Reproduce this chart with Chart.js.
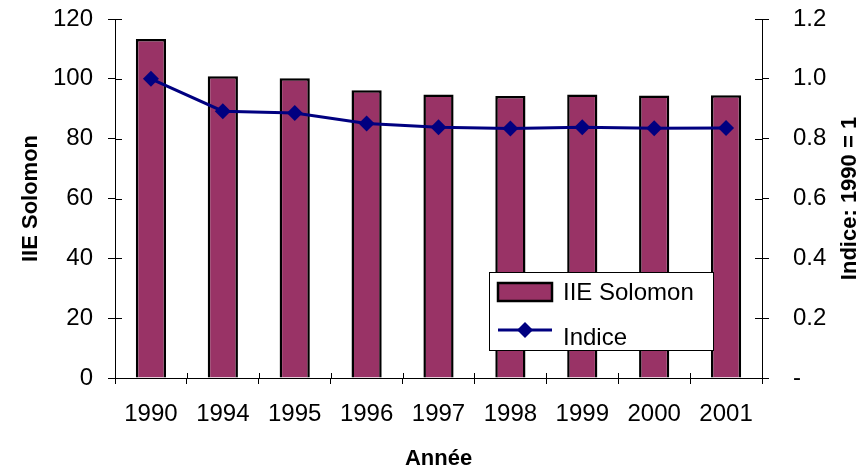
<!DOCTYPE html>
<html lang="fr">
<head>
    <meta charset="UTF-8">
    <title>IIE Solomon</title>
    <script src="https://cdn.jsdelivr.net/npm/chart.js"></script>
    <style>
        body { margin: 0; background: #fff; }
        .wrap { width: 863px; height: 472px; }
    </style>
</head>
<body>
<div class="wrap"><canvas id="chart" width="863" height="472"></canvas></div>
<script>
    const annees = ['1990', '1994', '1995', '1996', '1997', '1998', '1999', '2000', '2001'];
    const iieSolomon = [113.3, 100.9, 100.2, 96.2, 94.8, 94.3, 94.8, 94.4, 94.5];
    const indice = [1.0, 0.892, 0.886, 0.851, 0.838, 0.834, 0.838, 0.835, 0.836];

    const FONT = "'Liberation Sans', Arial, sans-serif";

    // petites graduations qui traversent l'axe (vers l'intérieur)
    const crossTicks = {
      id: 'crossTicks',
      beforeDatasetsDraw(chart) {
        const ctx = chart.ctx, a = chart.chartArea;
        ctx.save();
        ctx.strokeStyle = '#000';
        ctx.lineWidth = 1;
        ctx.beginPath();
        const y = chart.scales.y, y1 = chart.scales.y1;
        y.ticks.forEach((t, i) => {
          const py = Math.round(y.getPixelForTick(i)) + 0.5;
          ctx.moveTo(a.left, py); ctx.lineTo(a.left + 7, py);
        });
        y1.ticks.forEach((t, i) => {
          const py = Math.round(y1.getPixelForTick(i)) + 0.5;
          ctx.moveTo(a.right, py); ctx.lineTo(a.right - 7, py);
        });
        const step = (a.right - a.left) / annees.length;
        for (let i = 0; i <= annees.length; i++) {
          const px = Math.round(a.left + i * step) + 0.5;
          ctx.moveTo(px, a.bottom); ctx.lineTo(px, a.bottom - 5);
        }
        ctx.stroke();
        ctx.restore();
      }
    };

    // titre de l'axe de droite, lu de bas en haut comme à gauche
    const rightTitle = {
      id: 'rightTitle',
      afterDraw(chart) {
        const ctx = chart.ctx, a = chart.chartArea;
        ctx.save();
        ctx.translate(850, (a.top + a.bottom) / 2);
        ctx.rotate(-Math.PI / 2);
        ctx.fillStyle = '#000';
        ctx.font = 'bold 22px ' + FONT;
        ctx.textAlign = 'center';
        ctx.textBaseline = 'middle';
        ctx.fillText('Indice: 1990 = 1', 0, 0);
        ctx.restore();
      }
    };

    // légende encadrée dans la zone du graphique
    const boxLegend = {
      id: 'boxLegend',
      afterDraw(chart) {
        const ctx = chart.ctx;
        const bars = chart.data.datasets.find(d => d.type === 'bar');
        const line = chart.data.datasets.find(d => d.type === 'line');
        ctx.save();
        ctx.fillStyle = '#fff';
        ctx.fillRect(489, 272, 224, 78);
        ctx.strokeStyle = '#000';
        ctx.lineWidth = 1;
        ctx.strokeRect(489.5, 272.5, 224, 78);
        // barres
        ctx.fillStyle = bars.backgroundColor;
        ctx.fillRect(498, 283, 54, 18);
        ctx.lineWidth = 2.5;
        ctx.strokeRect(498, 283, 54, 18);
        // ligne
        ctx.strokeStyle = line.borderColor;
        ctx.lineWidth = 3;
        ctx.beginPath();
        ctx.moveTo(498, 330); ctx.lineTo(552, 330);
        ctx.stroke();
        ctx.fillStyle = line.borderColor;
        ctx.beginPath();
        ctx.moveTo(525, 322); ctx.lineTo(533, 330); ctx.lineTo(525, 338); ctx.lineTo(517, 330);
        ctx.closePath();
        ctx.fill();
        ctx.fillStyle = '#000';
        ctx.font = '24px ' + FONT;
        ctx.textBaseline = 'middle';
        ctx.fillText(bars.label, 563, 293);
        ctx.fillText(line.label, 563, 338);
        ctx.restore();
      }
    };

    const noPad = s => { s.paddingTop = 0; s.paddingBottom = 0; s.paddingLeft = 0; s.paddingRight = 0; };

    new Chart(document.getElementById('chart'), {
      data: {
        labels: annees,
        datasets: [
          {
            type: 'line',
            label: 'Indice',
            data: indice,
            yAxisID: 'y1',
            borderColor: '#000080',
            backgroundColor: '#000080',
            borderWidth: 3,
            pointStyle: 'rectRot',
            pointRadius: 8,
            pointBackgroundColor: '#000080',
            pointBorderWidth: 0,
            tension: 0,
            order: 0
          },
          {
            type: 'bar',
            label: 'IIE Solomon',
            data: iieSolomon,
            yAxisID: 'y',
            backgroundColor: '#993366',
            borderColor: '#000',
            borderWidth: 2.5,
            categoryPercentage: 1,
            barPercentage: 0.42,
            order: 1
          }
        ]
      },
      options: {
        responsive: false,
        animation: false,
        layout: { autoPadding: false, padding: { top: 19, left: 0, right: 0, bottom: 0 } },
        plugins: { legend: { display: false }, tooltip: { enabled: false } },
        scales: {
          x: {
            offset: true,
            grid: { offset: true, drawOnChartArea: false, tickLength: 6, color: '#000' },
            border: { color: '#000', width: 1 },
            ticks: { color: '#000', font: { family: FONT, size: 24 }, padding: 16, maxRotation: 0 },
            title: { display: true, text: 'Année', color: '#000', font: { family: FONT, size: 22, weight: 'bold' }, padding: { top: 12, bottom: 0 } },
            afterFit(s) { s.height = 94; noPad(s); }
          },
          y: {
            position: 'left',
            min: 0, max: 120,
            ticks: { stepSize: 20, color: '#000', font: { family: FONT, size: 24 }, padding: 15 },
            grid: { drawOnChartArea: false, tickLength: 7, color: '#000' },
            border: { color: '#000', width: 1 },
            title: { display: true, text: 'IIE Solomon', color: '#000', font: { family: FONT, size: 22, weight: 'bold' }, padding: { top: 18, bottom: 0 } },
            afterFit(s) { s.width = 115; noPad(s); }
          },
          y1: {
            position: 'right',
            min: 0, max: 1.2,
            ticks: {
              stepSize: 0.2, color: '#000', font: { family: FONT, size: 24 }, padding: 24,
              callback: v => (v === 0 ? '-' : v.toFixed(1))
            },
            grid: { drawOnChartArea: false, tickLength: 7, color: '#000' },
            border: { color: '#000', width: 1 },
            afterFit(s) { s.width = 101; noPad(s); }
          }
        }
      },
      plugins: [crossTicks, rightTitle, boxLegend]
    });
</script>
</body>
</html>
